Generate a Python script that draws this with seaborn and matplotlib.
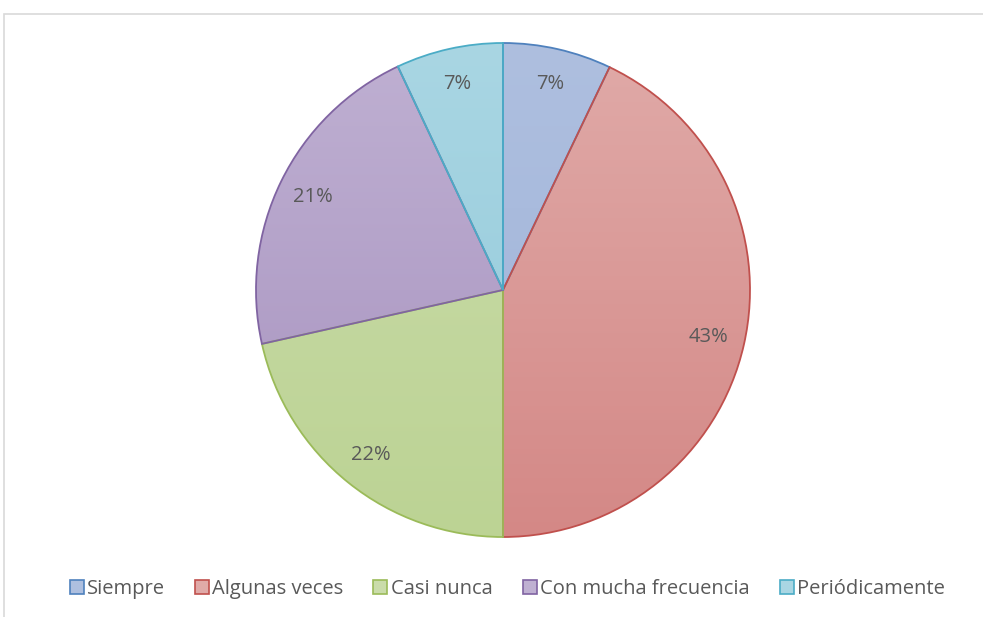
import numpy as np
import matplotlib
matplotlib.use("Agg")
import matplotlib.pyplot as plt
import seaborn as sns
from matplotlib.lines import Line2D
from matplotlib.patches import Rectangle
from matplotlib.colors import to_rgb

categories = ["Siempre", "Algunas veces", "Casi nunca", "Con mucha frecuencia", "Periódicamente"]
values = [7.1, 42.9, 21.5, 21.5, 7.0]
pct_labels = ["7%", "43%", "22%", "21%", "7%"]

# light (top) / dark (bottom) fill colours and outline colours
top_colors = ["#aebfdf", "#e0aaa8", "#cadcaa", "#bfb0d2", "#a9d6e3"]
bottom_colors = ["#9fb3d9", "#d48886", "#bcd394", "#a792bf", "#92c9da"]
edge_colors = ["#4f81bd", "#c0504d", "#9bbb59", "#8064a2", "#4bacc6"]

sns.set_theme(style="white")
plt.rcParams['font.family'] = ['Open Sans', 'DejaVu Sans']

W, H = 983, 617
fig = plt.figure(figsize=(W / 100, H / 100), dpi=100)

# light grey frame around the chart area
fig.patches.append(Rectangle((4 / W, -0.1), 1.2, (H - 14) / H + 0.1, transform=fig.transFigure,
                             fill=False, edgecolor="#d9d9d9", linewidth=1.2))

cx, cy, r = 503, 290, 247
ax = fig.add_axes([(cx - r) / W, (H - cy - r) / H, 2 * r / W, 2 * r / H])

wedges, texts, autotexts = ax.pie(
    values, startangle=90, counterclock=False, radius=1,
    autopct="%.0f%%", pctdistance=0.855,
    wedgeprops=dict(linewidth=1.3), textprops=dict(color="#595959", fontsize=14.5))

for txt, lab in zip(autotexts, pct_labels):
    txt.set_text(lab)
    txt.set_zorder(3)

for w, tc, bc, ec in zip(wedges, top_colors, bottom_colors, edge_colors):
    w.set_facecolor("none")
    w.set_edgecolor(ec)
    t = np.linspace(0, 1, 256)[:, None]
    grad = (1 - t) * np.array(to_rgb(tc)) + t * np.array(to_rgb(bc))
    img = ax.imshow(grad[:, None, :].repeat(2, axis=1), extent=(-1, 1, -1, 1),
                    origin="upper", aspect="auto", zorder=0.5)
    img.set_clip_path(w)
    w.set_zorder(1)

ax.set_xlim(-1, 1)
ax.set_ylim(-1, 1)
ax.set_aspect("equal")
ax.axis("off")

handles = [Line2D([0], [0], marker="s", linestyle="", markersize=10,
                  markerfacecolor=tc, markeredgecolor=ec, markeredgewidth=1.2)
           for tc, ec in zip(top_colors, edge_colors)]
fig.legend(handles, categories, loc="center", bbox_to_anchor=(506 / W, 1 - 589 / H),
           ncol=5, frameon=False, fontsize=14.5, handletextpad=0.05, columnspacing=1.4,
           labelcolor="#595959", handlelength=0.9)

fig.savefig("out.png", dpi=100)
